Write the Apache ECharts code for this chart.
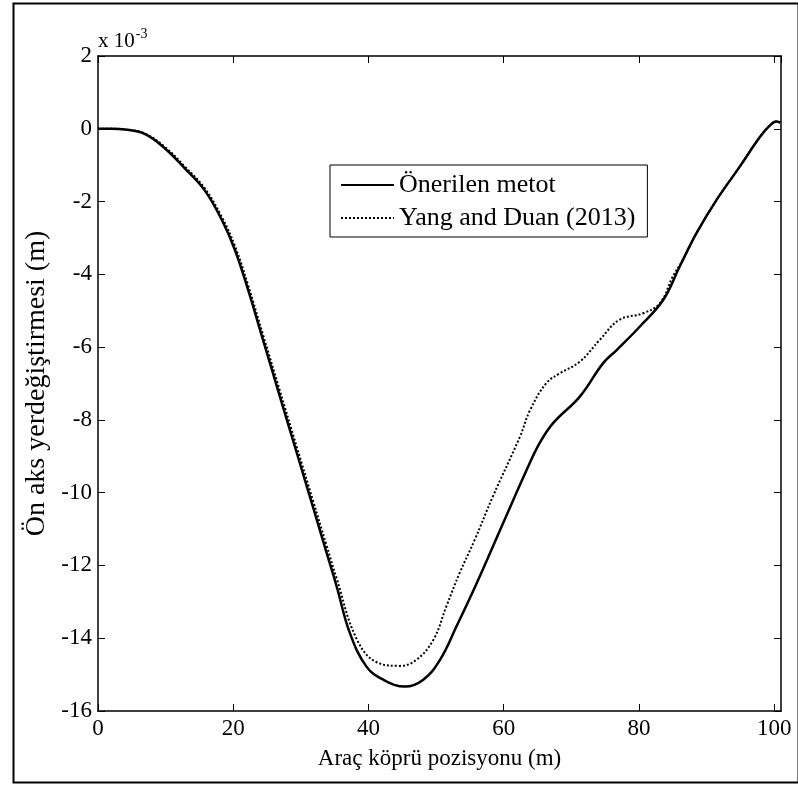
<!DOCTYPE html>
<html>
<head>
<meta charset="utf-8">
<script src="https://cdn.jsdelivr.net/npm/echarts@6/dist/echarts.min.js"></script>
<style>
  html, body { margin: 0; padding: 0; background: #fff; }
  #chart { width: 798px; height: 785px; }
</style>
</head>
<body>
<div id="chart"></div>
<script>
// veriler (y değerleri x 10^-3 m)
const onerilenX = [0, 2, 4, 6.9, 9.9, 12.9, 15.8, 18.3, 20.25, 22.2, 24.4, 26.9, 29.4, 31.8, 33.8, 35.3, 37.25, 39.7, 42.2, 45.4, 48.1, 50.55, 53, 56, 59.9, 63.4, 65.3, 67.3, 71.25, 74.7, 76.7, 80.1, 83.6, 86, 88.5, 91.45, 94.9, 97.9, 99.4, 100.3, 100.9];
const onerilenY = [0, 0, -0.02, -0.14, -0.54, -1.1, -1.7, -2.5, -3.33, -4.43, -5.8, -7.36, -8.91, -10.4, -11.65, -12.58, -13.86, -14.78, -15.14, -15.33, -15.14, -14.6, -13.68, -12.49, -10.84, -9.37, -8.64, -8.09, -7.36, -6.44, -6.08, -5.44, -4.7, -3.79, -2.87, -1.96, -1.04, -0.22, 0.1, 0.2, 0.17];

const yangX = [0, 2, 4, 6.9, 9.9, 12.9, 15.8, 18.3, 20.25, 22.2, 24.4, 26.9, 29.4, 31.8, 33.8, 35.3, 38.2, 41.2, 44.6, 47.1, 49.6, 51.5, 53.5, 55.7, 58.4, 62.4, 63.9, 66.3, 68.3, 71.25, 74.2, 77.1, 80.6, 83.1, 85, 86.5, 88.5, 91.45, 94.9, 97.9, 99.4, 100.3, 100.9];
const yangY = [0, 0, -0.02, -0.13, -0.5, -1.05, -1.64, -2.42, -3.22, -4.3, -5.66, -7.2, -8.75, -10.22, -11.45, -12.36, -14.0, -14.66, -14.76, -14.59, -14.04, -13.13, -12.2, -11.3, -10.1, -8.46, -7.73, -6.99, -6.72, -6.4, -5.8, -5.25, -5.07, -4.79, -4.06, -3.6, -2.87, -1.96, -1.04, -0.22, 0.1, 0.2, 0.17];

const xTicks = [0, 20, 40, 60, 80, 100];
const yTicks = [-16, -14, -12, -10, -8, -6, -4, -2, 0, 2];

const serif = 'Liberation Serif';

function pairs(xs, ys) {
    let out = [];
    for (let i = 0; i < xs.length; i++) {
        out.push([xs[i], ys[i]]);
    }
    return out;
}

const chart = echarts.init(document.getElementById('chart'));

// MATLAB tarzı eksen (içe dönük tikler)
function xAx(pos, showLabel) {
    return {
        type: 'value', position: pos, min: 0, max: 101, interval: 20,
        name: showLabel ? 'Araç köprü pozisyonu (m)' : '',
        nameLocation: 'middle', nameGap: 36,
        nameTextStyle: { fontFamily: serif, fontSize: 23, color: '#000' },
        axisLine: { show: true, onZero: false, lineStyle: { color: '#000', width: 1.5 } },
        axisTick: { show: true, inside: true, length: 7, lineStyle: { color: '#000' } },
        axisLabel: {
            show: showLabel, showMaxLabel: false, margin: 6,
            fontFamily: serif, fontSize: 23, color: '#000',
            formatter: function (v) { return xTicks.indexOf(v) >= 0 ? String(v) : ''; }
        },
        splitLine: { show: false }
    };
}
function yAx(pos, showLabel) {
    return {
        type: 'value', position: pos, min: -16, max: 2, interval: 2,
        name: showLabel ? 'Ön aks yerdeğiştirmesi (m)' : '',
        nameLocation: 'middle', nameGap: 42,
        nameTextStyle: { fontFamily: serif, fontSize: 28, color: '#000' },
        axisLine: { show: true, onZero: false, lineStyle: { color: '#000', width: 1.5 } },
        axisTick: { show: true, inside: true, length: 7, lineStyle: { color: '#000' } },
        axisLabel: {
            show: showLabel, margin: 6,
            fontFamily: serif, fontSize: 23, color: '#000',
            formatter: function (v) { return yTicks.indexOf(v) >= 0 ? String(v) : ''; }
        },
        splitLine: { show: false }
    };
}

const option = {
    backgroundColor: '#fff',
    animation: false,
    grid: { left: 98, right: 17, top: 56, bottom: 74 },
    xAxis: [xAx('bottom', true), xAx('top', false)],
    yAxis: [yAx('left', true), yAx('right', false)],
    legend: {
        left: 330, top: 165,
        orient: 'vertical',
        backgroundColor: '#fff',
        borderColor: '#000', borderWidth: 1,
        padding: [7, 12, 6, 10],
        itemWidth: 53, itemHeight: 14, itemGap: 7,
        itemStyle: { opacity: 0 },
        textStyle: { fontFamily: serif, fontSize: 26, color: '#000' },
        data: ['Önerilen metot', 'Yang and Duan (2013)']
    },
    graphic: [
        {   // dış çerçeve
            type: 'rect', left: 11, top: 1,
            shape: { width: 785, height: 779 },
            style: { fill: 'none', stroke: '#000', lineWidth: 2 }
        },
        {
            type: 'text', left: 98, top: 27,
            style: {
                text: '{a|x 10}{b|-3}',
                rich: {
                    a: { fontFamily: serif, fontSize: 21, color: '#000', padding: [8, 0, 0, 0] },
                    b: { fontFamily: serif, fontSize: 14, color: '#000', padding: [0, 0, 7, 1] }
                }
            }
        }
    ],
    series: [
        {
            name: 'Önerilen metot', type: 'line',
            data: pairs(onerilenX, onerilenY),
            smooth: 0.4, symbol: 'none',
            lineStyle: { color: '#000', width: 2.5, type: 'solid' },
            itemStyle: { color: '#000' }
        },
        {
            name: 'Yang and Duan (2013)', type: 'line',
            data: pairs(yangX, yangY),
            smooth: 0.4, symbol: 'none',
            lineStyle: { color: '#000', width: 2, type: [2, 2] },
            itemStyle: { color: '#000' }
        }
    ]
};
chart.setOption(option);
</script>
</body>
</html>
